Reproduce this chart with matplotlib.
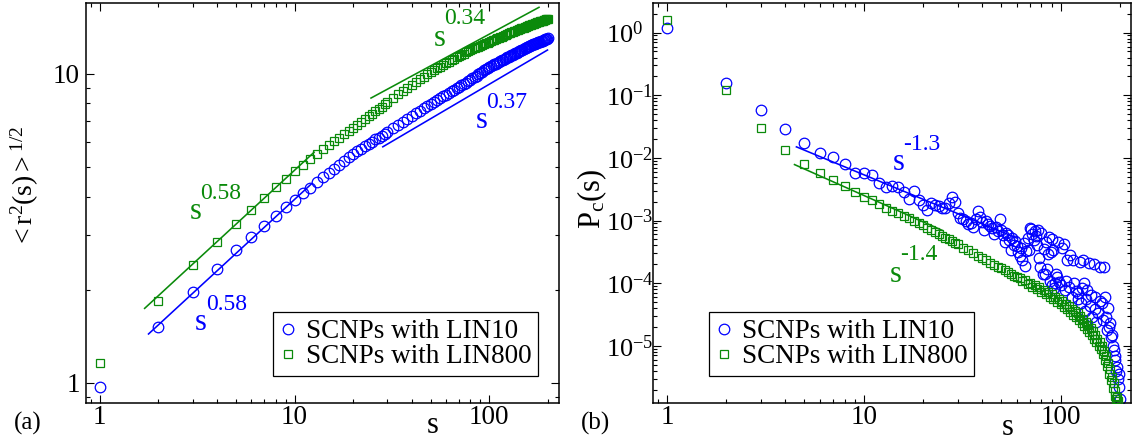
import numpy as np
import matplotlib
matplotlib.use("Agg")
import matplotlib.pyplot as plt
from matplotlib.ticker import LogLocator, NullFormatter, FixedLocator, FixedFormatter

plt.rcParams['font.family'] = ['Liberation Serif', 'DejaVu Serif']
plt.rcParams['mathtext.fontset'] = 'custom'
plt.rcParams['mathtext.rm'] = 'Liberation Serif'
plt.rcParams['mathtext.it'] = 'Liberation Serif:italic'
plt.rcParams['mathtext.bf'] = 'Liberation Serif:bold'

BLUE = '#0000ff'
GREEN = '#0a8a0a'

# ---------------- panel (a): <r^2(s)>^{1/2} ----------------
s_a = list(range(1, 31)) + list(range(32, 61, 2)) + list(range(62, 201, 2))

r_lin10 = [0.97, 1.52, 1.97, 2.34, 2.68, 2.96, 3.22, 3.47, 3.70, 3.91,
           4.11, 4.28, 4.45, 4.62, 4.78, 4.93, 5.08, 5.23, 5.37, 5.50,
           5.61, 5.72, 5.82, 5.92, 6.02, 6.12, 6.21, 6.30, 6.39, 6.48,
           6.65, 6.81, 6.97, 7.14, 7.30, 7.44, 7.58, 7.72, 7.85, 7.98,
           8.10, 8.22, 8.33, 8.44, 8.55,
           8.65, 8.75, 8.85, 8.95, 9.05, 9.15, 9.25, 9.35, 9.45, 9.55,
           9.65, 9.75, 9.85, 9.95, 10.05, 10.14, 10.23, 10.32, 10.41, 10.50,
           10.57, 10.64, 10.70, 10.77, 10.84, 10.90, 10.97, 11.03, 11.09, 11.15,
           11.21, 11.27, 11.33, 11.39, 11.45, 11.51, 11.57, 11.63, 11.69, 11.75,
           11.80, 11.85, 11.90, 11.95, 12.00, 12.05, 12.10, 12.15, 12.20, 12.25,
           12.29, 12.33, 12.37, 12.41, 12.45, 12.49, 12.53, 12.57, 12.61, 12.65,
           12.68, 12.71, 12.75, 12.78, 12.82, 12.85, 12.88, 12.92, 12.95, 12.98]

r_lin800 = [1.16, 1.84, 2.40, 2.86, 3.27, 3.63, 3.97, 4.29, 4.57, 4.84,
            5.08, 5.30, 5.50, 5.69, 5.87, 6.04, 6.21, 6.37, 6.53, 6.68,
            6.83, 6.98, 7.13, 7.27, 7.41, 7.55, 7.69, 7.82, 7.95, 8.08,
            8.33, 8.57, 8.79, 9.00, 9.20, 9.39, 9.57, 9.75, 9.93, 10.10,
            10.25, 10.39, 10.53, 10.67, 10.80,
            10.92, 11.04, 11.16, 11.28, 11.40, 11.50, 11.60, 11.70, 11.80, 11.90,
            11.98, 12.06, 12.14, 12.22, 12.30, 12.37, 12.44, 12.51, 12.58, 12.65,
            12.72, 12.79, 12.85, 12.92, 12.98, 13.04, 13.11, 13.17, 13.24, 13.30,
            13.36, 13.41, 13.47, 13.52, 13.58, 13.64, 13.69, 13.75, 13.80, 13.85,
            13.90, 13.95, 13.99, 14.04, 14.08, 14.12, 14.17, 14.21, 14.26, 14.30,
            14.34, 14.38, 14.42, 14.46, 14.50, 14.54, 14.58, 14.62, 14.66, 14.70,
            14.73, 14.76, 14.80, 14.83, 14.86, 14.89, 14.92, 14.95, 14.97, 15.00]

# power-law guides: (amplitude, exponent, s_start, s_end, colour)
guides_a = [(1.03, 0.58, 1.78, 12.2, BLUE),
            (1.28, 0.58, 1.70, 12.6, GREEN),
            (1.68, 0.37, 28.4, 199.0, BLUE),
            (2.80, 0.34, 24.7, 180.0, GREEN)]

# ---------------- panel (b): contact probability ----------------
s_pc_lin10 = list(range(1, 99)) + [
    100, 102, 104, 105, 107, 108, 110, 112, 114, 116, 117, 120, 122, 123,
    125, 127, 128, 130, 131, 133, 135, 137, 140, 141, 142, 144, 148, 149,
    150, 152, 155, 158, 159, 162, 164, 167, 168, 170, 172, 174, 176, 178,
    180, 182, 184, 186, 188, 190, 192, 193, 195, 197, 199, 201]

p_pc_lin10 = [
    1.2, 0.157, 0.0577, 0.0287, 0.0170, 0.0120, 0.0104, 0.00785, 0.00575, 0.00575,
    0.0053, 0.0039, 0.0034, 0.00354, 0.0034, 0.00287, 0.0022, 0.00294, 0.0021, 0.00176,
    0.00147, 0.00187, 0.00175, 0.0017, 0.00157, 0.0016, 0.00187, 0.0024, 0.00197, 0.00133,
    0.0011, 0.00105, 0.00097, 0.00087, 0.0009, 0.00078, 0.00105, 0.00141, 0.00115, 0.00095,
    0.00071, 0.00097, 0.00088, 0.00083, 0.00075, 0.00062, 0.00078, 0.00068, 0.00106, 0.00071,
    0.00058, 0.00046, 0.00064, 0.00058, 0.00049, 0.00034, 0.00052, 0.00041, 0.00047, 0.00039,
    3.1e-4, 2.7e-4, 3.6e-4, 2.3e-4, 4.4e-4, 1.85e-4, 3.3e-4, 5.2e-4, 3.4e-4, 7.5e-4,
    7.4e-4, 6.1e-4, 4.8e-4, 6.8e-4, 5.6e-4, 4.1e-4, 7.0e-4, 2.5e-4, 1.8e-4, 6.4e-4,
    1.4e-4, 3.5e-4, 1.4e-4, 4.5e-4, 1.7e-4, 2.9e-4, 5.5e-4, 1.1e-4, 3.2e-4, 5.1e-4,
    9.5e-5, 3.4e-4, 8.4e-5, 1.0e-4, 1.4e-4, 1.25e-4, 4.5e-4, 1.05e-4,
    9.3e-5, 3.6e-4, 4.2e-4, 7.8e-5, 1.1e-4, 2.3e-4, 8.8e-5, 2.8e-4, 6.1e-5, 2.3e-4,
    9.9e-5, 7.5e-5, 5.5e-5, 6.9e-5, 2.2e-4, 4.8e-5, 8.5e-5, 2.3e-4, 9.9e-5, 3.6e-5,
    5.5e-5, 7.8e-5, 2.1e-4, 4.3e-5, 6.5e-5, 2.9e-5, 2.0e-4, 6.1e-5, 3.9e-5, 2.4e-5,
    3.3e-5, 1.83e-4, 5.2e-5, 4.8e-5, 2.6e-5, 1.83e-4, 6.1e-5, 2.9e-5, 1.8e-5, 4.0e-5,
    2.0e-5, 2.3e-5, 1.4e-5, 1.5e-5, 1.0e-5, 8.5e-6, 6.0e-6, 6.8e-6, 4.0e-6, 4.6e-6,
    3.0e-6, 3.6e-6, 2.2e-6, 1.4e-6]

s_pc_lin800 = list(range(1, 31)) + list(range(32, 61, 2)) + list(range(62, 197, 2))

p_pc_lin800 = [
    1.57, 0.123, 0.0298, 0.0134, 0.0081, 0.0058, 0.0044, 0.00354, 0.00287, 0.00239,
    0.00211, 0.00183, 0.00158, 0.00142, 0.0013, 0.00119, 0.00108, 0.00099, 0.00091, 0.00084,
    0.00077, 0.00071, 0.00065, 0.00061, 0.00057, 0.00053, 0.00050, 0.00047, 0.00044, 0.00042,
    3.7e-4, 3.33e-4, 3.0e-4, 2.73e-4, 2.48e-4, 2.3e-4, 2.13e-4, 1.97e-4, 1.84e-4, 1.72e-4,
    1.61e-4, 1.5e-4, 1.41e-4, 1.32e-4, 1.24e-4,
    1.22e-4, 1.08e-4, 1.12e-4, 9.7e-5, 1.02e-4, 8.8e-5, 9.3e-5, 8.0e-5, 8.6e-5, 7.3e-5,
    7.9e-5, 6.8e-5, 7.2e-5, 6.1e-5, 6.6e-5, 5.6e-5, 6.1e-5, 5.0e-5, 5.6e-5, 4.6e-5,
    5.1e-5, 4.2e-5, 4.7e-5, 3.8e-5, 4.3e-5, 3.5e-5, 3.9e-5, 3.1e-5, 3.6e-5, 2.9e-5,
    3.3e-5, 2.6e-5, 3.0e-5, 2.3e-5, 2.7e-5, 2.1e-5, 2.4e-5, 1.85e-5, 2.15e-5, 1.65e-5,
    1.95e-5, 1.5e-5, 1.7e-5, 1.3e-5, 1.5e-5, 1.15e-5, 1.3e-5, 1.0e-5, 1.15e-5, 8.8e-6,
    9.8e-6, 7.4e-6, 8.2e-6, 6.0e-6, 6.8e-6, 4.8e-6, 5.4e-6, 3.6e-6, 4.2e-6, 2.8e-6,
    3.2e-6, 2.1e-6, 2.5e-6, 1.6e-6, 1.9e-6, 1.4e-6, 1.5e-6, 1.3e-6]

guides_b = [(0.1075, -1.3, 4.55, 60.0, BLUE),
            (0.0632, -1.4, 4.45, 25.0, GREEN)]

series_labels = ['SCNPs with LIN10', 'SCNPs with LIN800']
x_ticks = [1, 10, 100]
x_ticklabels = ['1', '10', '100']
ya_ticks = [1, 10]
ya_ticklabels = ['1', '10']
yb_ticks = [1, 1e-1, 1e-2, 1e-3, 1e-4, 1e-5]
yb_ticklabels = [r'$\mathregular{10^{0}}$', r'$\mathregular{10^{-1}}$',
                 r'$\mathregular{10^{-2}}$', r'$\mathregular{10^{-3}}$',
                 r'$\mathregular{10^{-4}}$', r'$\mathregular{10^{-5}}$']

fig = plt.figure(figsize=(11.37, 4.44), dpi=100)
ax_a = fig.add_axes([86 / 1137, 41 / 444, 473 / 1137, 400 / 444])
ax_b = fig.add_axes([653 / 1137, 41 / 444, 478 / 1137, 400 / 444])

circ = dict(marker='o', ms=7.6, mfc='none', mew=0.9, ls='none')
sq = dict(marker='s', ms=6.2, mfc='none', mew=0.9, ls='none')


def style_axes(ax):
    ax.set_xscale('log')
    ax.set_yscale('log')
    for sp in ax.spines.values():
        sp.set_linewidth(1.1)
    ax.tick_params(which='both', direction='in', top=True, right=True,
                   width=0.8, labelsize=19.5)
    ax.tick_params(which='major', length=5.8)
    ax.tick_params(which='minor', length=2.9)
    ax.tick_params(axis='x', which='major', pad=1.5)
    ax.xaxis.set_major_locator(FixedLocator(x_ticks))
    ax.xaxis.set_major_formatter(FixedFormatter(x_ticklabels))
    ax.xaxis.set_minor_locator(LogLocator(base=10, subs=np.arange(2, 10)))
    ax.xaxis.set_minor_formatter(NullFormatter())
    ax.yaxis.set_minor_locator(LogLocator(base=10, subs=np.arange(2, 10), numticks=20))
    ax.yaxis.set_minor_formatter(NullFormatter())
    ax.set_xlim(0.85, 228)


def draw_guides(ax, guides):
    for amp, expo, s0, s1, col in guides:
        ss = np.geomspace(s0, s1, 60)
        ax.plot(ss, amp * ss ** expo, color=col, lw=1.15, zorder=1)


def add_legend(ax, x0):
    leg = ax.legend(loc='lower left', bbox_to_anchor=(x0, 0.0675),
                    borderaxespad=0, fontsize=19.5, frameon=True, fancybox=False,
                    framealpha=1, edgecolor='black', handlelength=0.6,
                    handletextpad=0.36, borderpad=0.25, labelspacing=0.0,
                    numpoints=1)
    leg.get_frame().set_linewidth(0.9)


def power_label(ax, xs, ys, xe, ye, expo, col):
    ax.text(xs, ys, 's', transform=ax.transAxes, fontsize=22, color=col,
            ha='center', va='center')
    ax.text(xe, ye, expo, transform=ax.transAxes, fontsize=17, color=col,
            ha='center', va='center')


# ---- (a)
style_axes(ax_a)
ax_a.set_ylim(0.861, 16.9)
ax_a.yaxis.set_major_locator(FixedLocator(ya_ticks))
ax_a.yaxis.set_major_formatter(FixedFormatter(ya_ticklabels))
ax_a.tick_params(axis='y', which='major', pad=4.3)
draw_guides(ax_a, guides_a)
ax_a.plot(s_a, r_lin10, color=BLUE, label=series_labels[0], zorder=2, **circ)
ax_a.plot(s_a, r_lin800, color=GREEN, label=series_labels[1], zorder=3, **sq)
add_legend(ax_a, 0.395)
ax_a.text(-0.129, 0.54, r'$\mathregular{{<}r^{2}(s){>}^{1/2}}$', transform=ax_a.transAxes,
          rotation=90, ha='center', va='center', fontsize=20)
ax_a.text(0.734, -0.075, 's', transform=ax_a.transAxes, ha='center',
          va='baseline', fontsize=22)
power_label(ax_a, 0.748, 0.9125, 0.801, 0.96, '0.34', GREEN)
power_label(ax_a, 0.837, 0.7075, 0.890, 0.7525, '0.37', BLUE)
power_label(ax_a, 0.2326, 0.48, 0.285, 0.525, '0.58', GREEN)
power_label(ax_a, 0.243, 0.20, 0.298, 0.245, '0.58', BLUE)

# ---- (b)
style_axes(ax_b)
ax_b.set_ylim(1.22e-6, 2.97)
ax_b.yaxis.set_major_locator(FixedLocator(yb_ticks))
ax_b.yaxis.set_major_formatter(FixedFormatter(yb_ticklabels))
ax_b.tick_params(axis='y', which='major', pad=33.8, labelsize=19)
for lab in ax_b.get_yticklabels():
    lab.set_horizontalalignment('left')
draw_guides(ax_b, guides_b)
ax_b.plot(s_pc_lin10, p_pc_lin10, color=BLUE, label=series_labels[0], zorder=2, **circ)
ax_b.plot(s_pc_lin800, p_pc_lin800, color=GREEN, label=series_labels[1], zorder=3, **sq)
add_legend(ax_b, 0.117)
ax_b.text(-0.128, 0.51, r'$\mathregular{P_c(s)}$', transform=ax_b.transAxes,
          rotation=90, ha='center', va='center', fontsize=22)
ax_b.text(0.743, -0.08, 's', transform=ax_b.transAxes, ha='center',
          va='baseline', fontsize=22)
power_label(ax_b, 0.513, 0.60, 0.562, 0.6457, '-1.3', BLUE)
power_label(ax_b, 0.507, 0.3207, 0.556, 0.3725, '-1.4', GREEN)

fig.text(28 / 1137, 14 / 444, '(a)', ha='center', va='baseline', fontsize=18)
fig.text(596 / 1137, 14 / 444, '(b)', ha='center', va='baseline', fontsize=18)

fig.savefig('out.png', dpi=100)
